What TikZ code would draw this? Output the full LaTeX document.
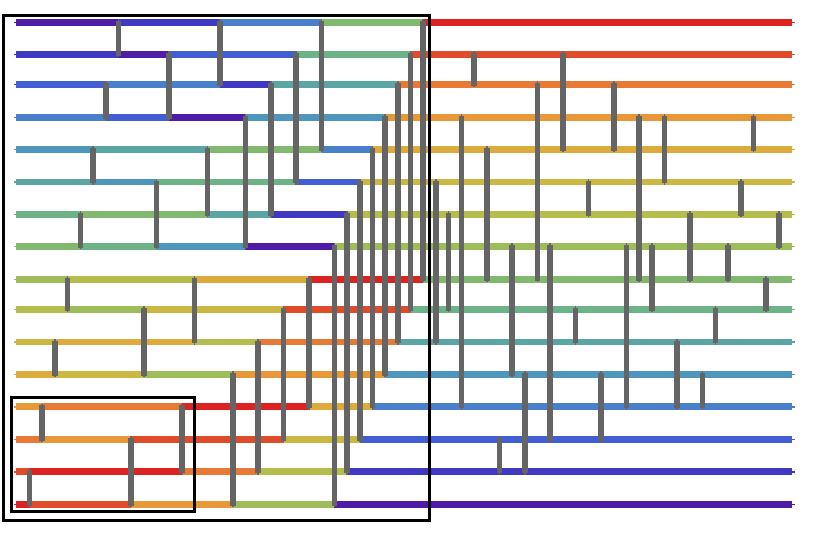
\documentclass[tikz,border=0pt]{standalone}

% one colour per value, 0 = lowest (purple) ... 15 = highest (red)
\definecolor{c0}{HTML}{4F1CA8}
\definecolor{c1}{HTML}{4038C0}
\definecolor{c2}{HTML}{415ED2}
\definecolor{c3}{HTML}{4980CC}
\definecolor{c4}{HTML}{4F96BC}
\definecolor{c5}{HTML}{5BA6A4}
\definecolor{c6}{HTML}{6DB388}
\definecolor{c7}{HTML}{83B96F}
\definecolor{c8}{HTML}{9DBD5A}
\definecolor{c9}{HTML}{B5BD4C}
\definecolor{c10}{HTML}{CBB842}
\definecolor{c11}{HTML}{DDAA3C}
\definecolor{c12}{HTML}{E99838}
\definecolor{c13}{HTML}{E87A35}
\definecolor{c14}{HTML}{E04C2A}
\definecolor{c15}{HTML}{DD2222}
\definecolor{cmpgray}{HTML}{656565}

\tikzset{
  wire/.style={line width=6.6pt},
  wirestub/.style={line width=1.6pt},
  cmpbar/.style={draw=cmpgray,line width=5.6pt},
  cmpstub/.style={draw=cmpgray,line width=1.6pt},
  frame/.style={draw=black,line width=2.6pt}
}

% heights of the 16 wires, top to bottom
\def\wirey{{22.3,54.3,84.3,117.3,149.3,182,214.3,246.3,279.3,309.3,342,374.3,406.7,439.3,471.7,504.3}}

% comparators from left to right: upper wire/lower wire
\def\cmplist{15/16,13/14,11/12,9/10,7/8,5/6,3/4,1/2,%
  14/16,10/12,6/8,2/4,13/15,9/11,5/7,1/3,%
  12/16,4/8,11/15,3/7,10/14,2/6,9/13,1/5,%
  8/16,7/15,6/14,5/13,4/12,3/11,2/10,1/9,%
  6/11,7/10,4/13,2/3,5/9,14/15,8/12,12/15,%
  3/9,8/14,2/5,10/11,6/7,12/14,3/5,8/13,%
  4/9,8/10,4/6,11/13,7/9,12/13,10/11,8/9,%
  6/7,4/5,9/10,7/8}

\begin{document}
\begin{tikzpicture}[x=1pt,y=-1pt]
  \useasboundingbox (0,0) rectangle (818,546);

  % start values and left ends
  \foreach \w in {1,...,16}{
    \pgfmathtruncatemacro{\wv}{\w-1}
    \pgfmathsetmacro{\wy}{\wirey[\w-1]}
    \expandafter\xdef\csname val\w\endcsname{\wv}
    \expandafter\xdef\csname from\w\endcsname{16}
    \draw[wirestub,color=c\wv] (14,\wy) -- (17,\wy);
  }

  % wire pieces, cut where a comparator swaps
  \foreach \ua/\lb [count=\k] in \cmplist{
    \pgfmathsetmacro{\cx}{29.5+(\k-1)*12.7}
    \edef\va{\csname val\ua\endcsname}
    \edef\vb{\csname val\lb\endcsname}
    \edef\fa{\csname from\ua\endcsname}
    \edef\fb{\csname from\lb\endcsname}
    \ifnum\va<\vb\relax
      \pgfmathsetmacro{\ya}{\wirey[\ua-1]}
      \pgfmathsetmacro{\yb}{\wirey[\lb-1]}
      \draw[wire,color=c\va] (\fa,\ya) -- (\cx,\ya);
      \draw[wire,color=c\vb] (\fb,\yb) -- (\cx,\yb);
      \expandafter\xdef\csname val\ua\endcsname{\vb}
      \expandafter\xdef\csname val\lb\endcsname{\va}
      \expandafter\xdef\csname from\ua\endcsname{\cx}
      \expandafter\xdef\csname from\lb\endcsname{\cx}
    \fi
  }

  % last pieces and right ends
  \foreach \w in {1,...,16}{
    \pgfmathsetmacro{\wy}{\wirey[\w-1]}
    \edef\wv{\csname val\w\endcsname}
    \edef\wf{\csname from\w\endcsname}
    \draw[wire,color=c\wv] (\wf,\wy) -- (792,\wy);
    \draw[wirestub,color=c\wv] (791,\wy) -- (794.5,\wy);
  }

  % comparators
  \foreach \ua/\lb [count=\k] in \cmplist{
    \pgfmathsetmacro{\cx}{29.5+(\k-1)*12.7}
    \pgfmathsetmacro{\ya}{\wirey[\ua-1]}
    \pgfmathsetmacro{\yb}{\wirey[\lb-1]}
    \draw[cmpstub] (\cx,\ya-3) -- (\cx,\yb+3);
    \draw[cmpbar] (\cx,\ya-1.3) -- (\cx,\yb+1.4);
  }

  \draw[frame] (3.5,15.3) rectangle (429.3,520.7);
  \draw[frame] (11.3,397.3) rectangle (194.3,511.3);
\end{tikzpicture}
\end{document}
